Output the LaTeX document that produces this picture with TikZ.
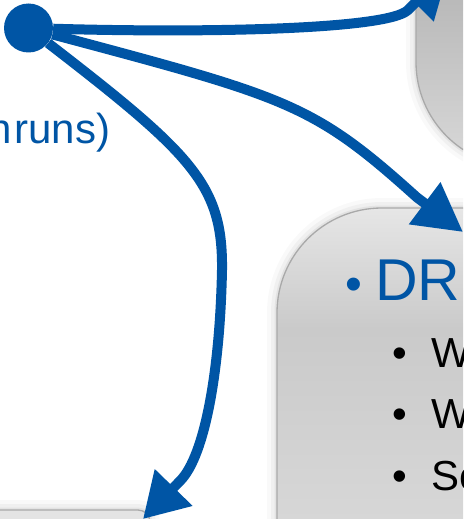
\documentclass[tikz,border=0pt]{standalone}
\usepackage{fontspec}
\setmainfont{Liberation Sans}
\usetikzlibrary{arrows.meta,positioning}

\definecolor{slideblue}{HTML}{0055A5}
\definecolor{paneledge}{HTML}{A9A9A9}
\definecolor{drtop}{HTML}{E6E6E6}
\definecolor{drmid}{HTML}{CACACA}
\definecolor{drlow}{HTML}{D7D7D7}
\definecolor{uptop}{HTML}{B9B9B9}
\definecolor{upbot}{HTML}{D9D9D9}
\definecolor{lowfill}{HTML}{E4E4E4}

\pgfdeclareverticalshading{drshade}{100bp}{color(0bp)=(drlow); color(25bp)=(drlow);
  color(44bp)=(drlow); color(63bp)=(drmid); color(75bp)=(drtop); color(100bp)=(drtop)}
\pgfdeclareverticalshading{upshade}{100bp}{color(0bp)=(upbot); color(25bp)=(upbot);
  color(48bp)=(uptop); color(75bp)=(uptop); color(100bp)=(uptop)}

\begin{document}
\begin{tikzpicture}
    [x=1pt, y=-1pt,
     panel/.style={draw=paneledge, line width=1.3pt, rounded corners=105pt,
                   inner sep=0, outer sep=0,
                   preaction={draw=black, draw opacity=0.025, line width=20pt},
                   preaction={draw=black, draw opacity=0.035, line width=12pt},
                   preaction={draw=black, draw opacity=0.05, line width=5pt}},
     link/.style={draw=slideblue, line width=10pt, line join=round},
     arrowhead/.style={-{Triangle[length=#1pt, width=50pt]}},
     lvlone/.style={anchor=base west, inner sep=0, text=slideblue,
                    font=\fontsize{59}{66}\selectfont},
     lvltwo/.style={anchor=base west, inner sep=0,
                    font=\fontsize{42}{48}\selectfont},
     bul/.style={anchor=base, inner sep=0}]
    \useasboundingbox (0,0) rectangle (463,519);
    \clip (0,0) rectangle (463,519);
    \fill[white] (0,0) rectangle (463,519);

    % the three panels
    \node[panel, shade, shading=upshade, minimum width=400pt, minimum height=370pt]
        (upper) at (616,-18) {};
    \node[panel, shade, shading=drshade, minimum width=400pt, minimum height=504pt]
        (dr) at (477,460) {};
    \node[panel, fill=lowfill, rounded corners=12pt, minimum width=450pt,
          minimum height=200pt] (lower) at (-75,610) {};

    % text
    \node[anchor=base west, inner sep=0, text=slideblue,
          font=\fontsize{42}{48}\selectfont] (runs) at (-12,143) {n\hspace{3pt}runs)};
    \node[bul, text=slideblue, font=\fontsize{48}{56}\selectfont] (drdot) at (354,300) {•};
    \node[lvlone] (drlabel) at (375,300) {DR};
    \node[bul, font=\fontsize{42}{48}\selectfont] (dotone) at (400,367) {•};
    \node[lvltwo] (itemone) at (431.5,367) {W};
    \node[bul, font=\fontsize{42}{48}\selectfont] (dottwo) at (400,428) {•};
    \node[lvltwo] (itemtwo) at (431.5,428) {W};
    \node[bul, font=\fontsize{42}{48}\selectfont] (dotthree) at (400,490) {•};
    \node[lvltwo] (itemthree) at (431.5,490) {Se};

    % hub and arrows
    \node[circle, fill=slideblue, minimum size=49pt, inner sep=0] (hub) at (28.5,28) {};
    \coordinate (upend) at (449,-31);
    \coordinate (drend) at (463,232);
    \coordinate (lowend) at (143,519);

    \draw[link, arrowhead=48] (hub) .. controls (200,33) and (388,30) .. (408,10) -- (upend);
    \draw[link, arrowhead=48] (hub) .. controls (289,97.5) and (313,103.7) .. (417,197.5) -- (drend);
    \draw[link, arrowhead=44] (hub) .. controls (193,155) and (223,185) .. (222,270)
        .. controls (220,370) and (205,456) .. (180,481) -- (lowend);
\end{tikzpicture}
\end{document}
